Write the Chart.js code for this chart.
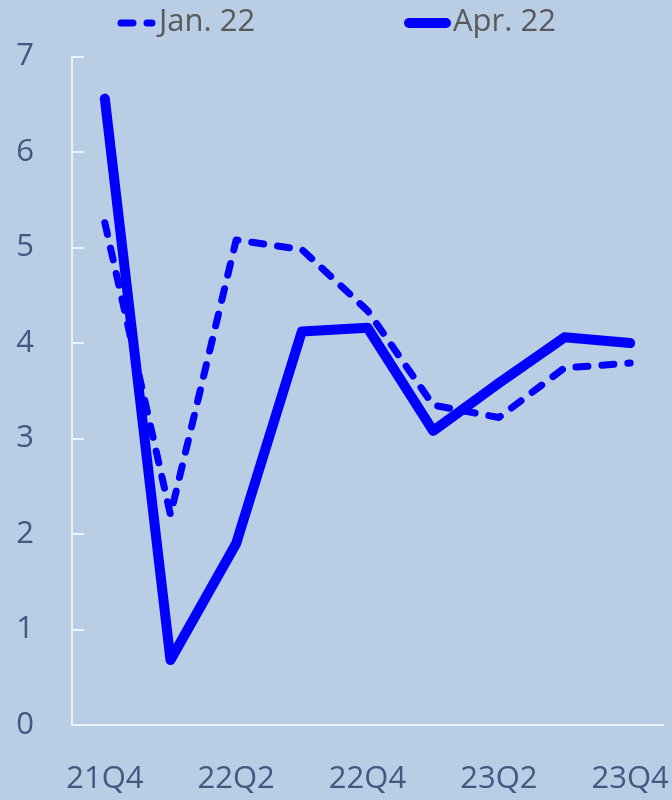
<!DOCTYPE html>
<html>
<head>
<meta charset="utf-8">
<script src="https://cdn.jsdelivr.net/npm/chart.js@4/dist/chart.umd.min.js"></script>
<style>
  html, body { margin: 0; padding: 0; background: #b9cde5; }
  #wrap { width: 672px; height: 800px; }
</style>
</head>
<body>
<div id="wrap"><canvas id="myChart" width="672" height="800"></canvas></div>
<script>
var quarters = ['21Q4', '22Q1', '22Q2', '22Q3', '22Q4', '23Q1', '23Q2', '23Q3', '23Q4'];
var jan22 = [5.26, 2.2, 5.08, 4.98, 4.34, 3.35, 3.22, 3.74, 3.79];
var apr22 = [6.56, 0.68, 1.9, 4.12, 4.16, 3.08, 3.58, 4.06, 4.0];
var yTicks = [0, 1, 2, 3, 4, 5, 6, 7];

var axisColor = '#eef3fa';
var labelColor = '#3f5a82';
var fontFamily = '"Open Sans", "Noto Sans", sans-serif';

// short white tick marks pointing into the plot from the y axis
var inwardTicks = {
    id: 'inwardTicks',
    afterDatasetsDraw: function (chart) {
        var ctx = chart.ctx;
        var y = chart.scales.y;
        ctx.save();
        ctx.strokeStyle = axisColor;
        ctx.lineWidth = 2;
        yTicks.forEach(function (v) {
            var py = Math.round(y.getPixelForValue(v));
            ctx.beginPath();
            ctx.moveTo(y.right, py);
            ctx.lineTo(y.right + 12, py);
            ctx.stroke();
        });
        ctx.restore();
    }
};

// legend row across the top, built from the datasets' own styles
var seriesKey = {
    id: 'seriesKey',
    afterDraw: function (chart) {
        var ctx = chart.ctx;
        var starts = [121, 409];
        var lengths = [31, 37];
        ctx.save();
        ctx.font = '31px ' + fontFamily;
        ctx.textBaseline = 'middle';
        chart.data.datasets.forEach(function (ds, i) {
            var x = starts[i];
            ctx.strokeStyle = ds.borderColor;
            ctx.lineWidth = ds.borderWidth;
            ctx.lineCap = 'round';
            ctx.setLineDash(ds.borderDash || []);
            ctx.beginPath();
            ctx.moveTo(x, 23);
            ctx.lineTo(x + lengths[i], 23);
            ctx.stroke();
            ctx.setLineDash([]);
            ctx.fillStyle = '#595959';
            ctx.fillText(ds.label, x + lengths[i] + 7, 22);
        });
        ctx.restore();
    }
};

var ctx = document.getElementById('myChart');

new Chart(ctx, {
    type: 'line',
    data: {
        labels: quarters,
        datasets: [{
            label: 'Jan. 22',
            data: jan22,
            borderColor: '#0000ff',
            borderWidth: 7,
            borderDash: [12, 14],
            borderCapStyle: 'round',
            borderJoinStyle: 'round',
            pointRadius: 0,
            tension: 0,
            fill: false
        }, {
            label: 'Apr. 22',
            data: apr22,
            borderColor: '#0000ff',
            borderWidth: 10,
            borderCapStyle: 'round',
            borderJoinStyle: 'round',
            pointRadius: 0,
            tension: 0,
            fill: false
        }]
    },
    plugins: [inwardTicks, seriesKey],
    options: {
        responsive: false,
        animation: false,
        layout: { padding: { top: 55, right: 9, left: 0, bottom: 0 } },
        plugins: {
            legend: { display: false },
            tooltip: { enabled: false }
        },
        scales: {
            x: {
                offset: true,
                grid: { display: false, drawTicks: false },
                border: { display: true, color: axisColor, width: 2 },
                ticks: {
                    autoSkip: false,
                    maxRotation: 0,
                    padding: 36,
                    color: labelColor,
                    font: { family: fontFamily, size: 31 },
                    callback: function (val, index) {
                        return index % 2 === 0 ? quarters[index] : '';
                    }
                },
                afterFit: function (scale) {
                    scale.height = 75;
                    scale.paddingLeft = 0;
                    scale.paddingRight = 0;
                }
            },
            y: {
                min: 0,
                max: 7,
                grid: { display: false, drawTicks: false },
                border: { display: true, color: axisColor, width: 2 },
                ticks: {
                    stepSize: 1,
                    padding: 38,
                    color: labelColor,
                    font: { family: fontFamily, size: 31 }
                },
                afterFit: function (scale) { scale.width = 72; }
            }
        }
    }
});
</script>
</body>
</html>
